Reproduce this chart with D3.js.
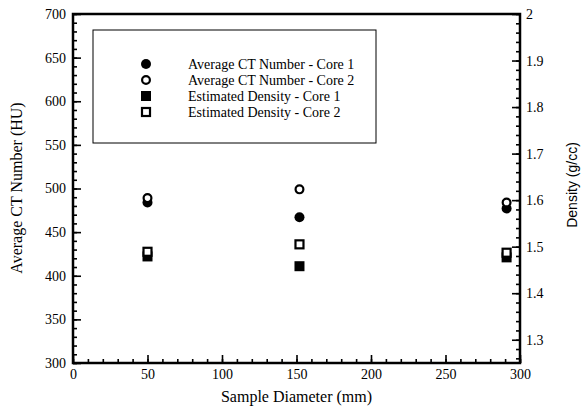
<!DOCTYPE html>
<html>
<head>
<meta charset="utf-8">
<script src="https://cdn.jsdelivr.net/npm/d3@7"></script>
</head>
<body style="margin:0; background:#fff">
<div id="chart"></div>
<script>
// sample diameters (mm)
const diameters = [50, 152, 291];
// average CT number (HU), left axis
const ctCore1 = [484, 467, 477];
const ctCore2 = [489, 499, 484];
// estimated density (g/cc), right axis
const densCore1 = [1.479, 1.458, 1.477];
const densCore2 = [1.489, 1.505, 1.487];

const legendLabels = [
  'Average CT Number - Core 1',
  'Average CT Number - Core 2',
  'Estimated Density - Core 1',
  'Estimated Density - Core 2'
];

const serifFont = '"Liberation Serif"';
const sansFont = '"Liberation Sans"';

const width = 585;
const height = 410;
const margin = { top: 14, right: 65, bottom: 47, left: 73 };

const svg = d3.select('#chart')
  .append('svg')
  .attr('width', width)
  .attr('height', height);

const x = d3.scaleLinear()
  .domain([0, 300])
  .range([margin.left, width - margin.right]);

const yLeft = d3.scaleLinear()
  .domain([300, 700])
  .range([height - margin.bottom, margin.top]);

const yRight = d3.scaleLinear()
  .domain([1.25, 2])
  .range([height - margin.bottom, margin.top]);

const bottom = height - margin.bottom;
const right = width - margin.right;

// minor ticks first
svg.append('g')
  .attr('transform', `translate(0,${bottom})`)
  .call(d3.axisBottom(x).tickValues(d3.range(0, 301, 10)).tickSize(-4).tickFormat(''))
  .call(g => g.select('.domain').remove());

svg.append('g')
  .attr('transform', `translate(${margin.left},0)`)
  .call(d3.axisLeft(yLeft).tickValues(d3.range(300, 701, 10)).tickSize(-4).tickFormat(''))
  .call(g => g.select('.domain').remove());

svg.append('g')
  .attr('transform', `translate(${right},0)`)
  .call(d3.axisRight(yRight).tickValues(d3.range(63, 101).map(d => d / 50)).tickSize(-4).tickFormat(''))
  .call(g => g.select('.domain').remove());

// major ticks
function xAxis(g) {
  g.attr('transform', `translate(0,${bottom})`)
    .call(d3.axisBottom(x).tickValues(d3.range(0, 301, 50)).tickSize(-8).tickPadding(6))
    .attr('font-size', '14px');
  g.select('.domain').remove();
}

function yAxisLeft(g) {
  g.attr('transform', `translate(${margin.left},0)`)
    .call(d3.axisLeft(yLeft).tickValues(d3.range(300, 701, 50)).tickSize(-8).tickPadding(7))
    .attr('font-size', '14px');
  g.select('.domain').remove();
}

function yAxisRight(g) {
  g.attr('transform', `translate(${right},0)`)
    .call(d3.axisRight(yRight).tickValues(d3.range(13, 21).map(d => d / 10))
      .tickSize(-8).tickPadding(6).tickFormat(d3.format('.1~f')))
    .attr('font-size', '14px');
  g.select('.domain').remove();
}

svg.append('g').call(xAxis);
svg.append('g').call(yAxisLeft);
svg.append('g').call(yAxisRight);

svg.selectAll('g').attr('font-family', null);
svg.selectAll('.tick line').attr('stroke-width', 1.6);
svg.selectAll('.tick text').style('font-family', serifFont).attr('fill', '#000');

// frame
svg.append('rect')
  .attr('x', margin.left)
  .attr('y', margin.top)
  .attr('width', right - margin.left)
  .attr('height', bottom - margin.top)
  .attr('fill', 'none')
  .attr('stroke', '#000')
  .attr('stroke-width', 2.5);

// axis titles
svg.append('text')
  .attr('x', (margin.left + right) / 2)
  .attr('y', 402)
  .attr('text-anchor', 'middle')
  .attr('font-size', '16px')
  .style('font-family', serifFont)
  .text('Sample Diameter (mm)');

svg.append('text')
  .attr('transform', 'translate(22,188) rotate(-90)')
  .attr('text-anchor', 'middle')
  .attr('font-size', '16px')
  .style('font-family', serifFont)
  .text('Average CT Number (HU)');

svg.append('text')
  .attr('transform', 'translate(577,185) rotate(-90)')
  .attr('text-anchor', 'middle')
  .attr('font-size', '14px')
  .style('font-family', sansFont)
  .text('Density (g/cc)');

// markers
const r = 5;
const sq = 10;

svg.append('g')
  .selectAll('rect')
  .data(diameters)
  .join('rect')
    .attr('x', (d) => x(d) - sq / 2)
    .attr('y', (d, i) => yRight(densCore1[i]) - sq / 2)
    .attr('width', sq)
    .attr('height', sq)
    .attr('fill', '#000');

svg.append('g')
  .selectAll('rect')
  .data(diameters)
  .join('rect')
    .attr('x', (d) => x(d) - (sq - 2) / 2)
    .attr('y', (d, i) => yRight(densCore2[i]) - (sq - 2) / 2)
    .attr('width', sq - 2)
    .attr('height', sq - 2)
    .attr('fill', '#fff')
    .attr('stroke', '#000')
    .attr('stroke-width', 2.2);

svg.append('g')
  .selectAll('circle')
  .data(diameters)
  .join('circle')
    .attr('cx', (d) => x(d))
    .attr('cy', (d, i) => yLeft(ctCore1[i]))
    .attr('r', r)
    .attr('fill', '#000');

svg.append('g')
  .selectAll('circle')
  .data(diameters)
  .join('circle')
    .attr('cx', (d) => x(d))
    .attr('cy', (d, i) => yLeft(ctCore2[i]))
    .attr('r', r - 1.1)
    .attr('fill', '#fff')
    .attr('stroke', '#000')
    .attr('stroke-width', 2.2);

// legend
const legend = svg.append('g');

legend.append('rect')
  .attr('x', 93)
  .attr('y', 30)
  .attr('width', 283)
  .attr('height', 113)
  .attr('fill', '#fff')
  .attr('stroke', '#000')
  .attr('stroke-width', 1);

const rowY = (i) => 64 + i * 16;
const mx = 146;

legend.append('circle').attr('cx', mx).attr('cy', rowY(0)).attr('r', r).attr('fill', '#000');
legend.append('circle').attr('cx', mx).attr('cy', rowY(1)).attr('r', r - 1.1)
  .attr('fill', '#fff').attr('stroke', '#000').attr('stroke-width', 2.2);
legend.append('rect').attr('x', mx - sq / 2).attr('y', rowY(2) - sq / 2)
  .attr('width', sq).attr('height', sq).attr('fill', '#000');
legend.append('rect').attr('x', mx - (sq - 2) / 2).attr('y', rowY(3) - (sq - 2) / 2)
  .attr('width', sq - 2).attr('height', sq - 2)
  .attr('fill', '#fff').attr('stroke', '#000').attr('stroke-width', 2.2);

legend.selectAll('text.lbl')
  .data(legendLabels)
  .join('text')
    .attr('class', 'lbl')
    .attr('x', 188)
    .attr('y', (d, i) => rowY(i))
    .attr('dy', '0.35em')
    .attr('font-size', '14px')
    .style('font-family', serifFont)
    .text(d => d);
</script>
</body>
</html>
